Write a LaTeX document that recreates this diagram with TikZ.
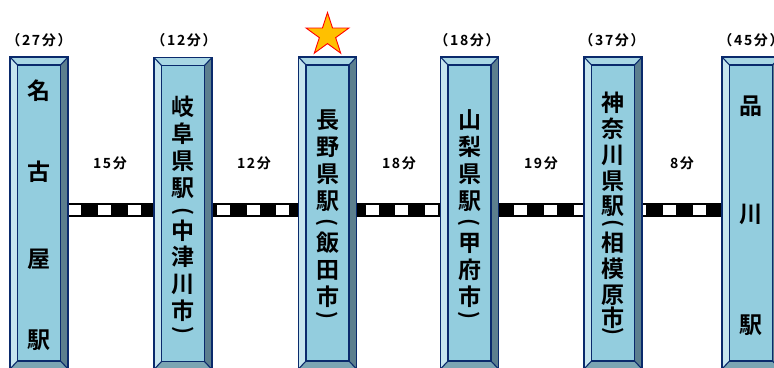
\documentclass[tikz,border=0pt]{standalone}
\usepackage{fontspec}
\setmainfont{Noto Sans CJK JP}[BoldFont={Noto Sans CJK JP Bold}]
\newfontfamily\lblfont{Noto Sans CJK JP Bold}[LetterSpace=12]
\usetikzlibrary{shapes.geometric,calc}
\definecolor{navy}{HTML}{0A2A6C}
\definecolor{face}{HTML}{93CDDE}
\definecolor{bvL}{HTML}{C6E5EE}
\definecolor{bvT}{HTML}{A9D7E4}
\definecolor{bvR}{HTML}{5C7F8E}
\definecolor{bvB}{HTML}{7BA5B3}
\definecolor{starfill}{HTML}{FFC000}
\newcommand\drawpillar[1]{%
  \path (#1.north west) coordinate (oA) (#1.north east) coordinate (oB)
        (#1.south east) coordinate (oC) (#1.south west) coordinate (oD)
        ([shift={(7.5pt,-8pt)}]#1.north west) coordinate (iA)
        ([shift={(-7.5pt,-8pt)}]#1.north east) coordinate (iB)
        ([shift={(-7.5pt,8pt)}]#1.south east) coordinate (iC)
        ([shift={(7.5pt,8pt)}]#1.south west) coordinate (iD);
  \fill[bvL] (oA)--(iA)--(iD)--(oD)--cycle;
  \fill[bvT] (oA)--(oB)--(iB)--(iA)--cycle;
  \fill[bvR] (oB)--(oC)--(iC)--(iB)--cycle;
  \fill[bvB] (oD)--(iD)--(iC)--(oC)--cycle;
  \fill[face] (iA)--(iB)--(iC)--(iD)--cycle;
  \draw[navy,line width=1.1pt] (oA)--(iA) (oB)--(iB) (oC)--(iC) (oD)--(iD);
  \draw[navy,line width=1.3pt] (iA)--(iB)--(iC)--(iD)--cycle;
  \draw[navy,line width=1.6pt] (oA)--(oB)--(oC)--(oD)--cycle;
}
\begin{document}
\begin{tikzpicture}[x=1pt,y=-1pt,
  lbl/.style={font=\lblfont\fontsize{14}{14}\selectfont,inner sep=0},
  kanji/.style={font=\bfseries\fontsize{23}{23}\selectfont,inner sep=0},
  paren/.style={font=\bfseries\fontsize{21}{21}\selectfont,inner sep=0,rotate=-90},
  pillarbox/.style={rectangle,inner sep=0,outer sep=0,minimum width=58pt,minimum height=312pt},
  trackbase/.style={line width=14.5pt,black},
  trackdash/.style={line width=10.5pt,white,dash pattern=on 13pt off 16.76pt},
]
\useasboundingbox (0,0) rectangle (774,367);
\clip (0,0) rectangle (774,367);
% pillar nodes
\node[pillarbox] (p1) at (39,213) {};
\node[pillarbox] (p2) at (183,213.5) {};
\node[pillarbox] (p3) at (327.5,213) {};
\node[pillarbox] (p4) at (469.5,213) {};
\node[pillarbox] (p5) at (613,213) {};
\node[pillarbox] (p6) at (751,213) {};
% track
\coordinate (trk) at (0,209.75);
\draw[trackbase] (p1.east|-trk) -- (p6.west|-trk);
\draw[trackdash] (p1.east|-trk) -- (p6.west|-trk);
% pillars
\drawpillar{p1}\drawpillar{p2}\drawpillar{p3}\drawpillar{p4}\drawpillar{p5}\drawpillar{p6}
% star
\node[star,star points=5,star point ratio=2.618,minimum size=45pt,inner sep=0,
      fill=starfill,draw=red,line width=0.9pt] (star) at (327.5,35) {};
% top labels
\node[lbl] (t1) at (39,40) {（27分）};
\node[lbl] (t2) at (184,40) {（12分）};
\node[lbl] (t4) at (467,40) {（18分）};
\node[lbl] (t5) at (612,40) {（37分）};
\node[lbl] (t6) at (751,40) {（45分）};
% gap labels
\node[lbl] (g1) at (110,163) {15分};
\node[lbl] (g2) at (254,163) {12分};
\node[lbl] (g3) at (399,163) {18分};
\node[lbl] (g4) at (541,163) {19分};
\node[lbl] (g5) at (682,163) {8分};
% pillar texts
\foreach \c/\y [count=\i] in {名/91,古/172,屋/259,駅/340}
  \node[kanji] (p1c\i) at (39,\y) {\c};
\foreach \c/\y [count=\i] in {岐/107,阜/134,県/161,駅/188,中/231,津/257,川/284,市/311}
  \node[kanji] (p2c\i) at (183,\y) {\c};
\node[paren] (p2o) at (183,211) {(};
\node[paren] (p2e) at (183,330) {)};
\foreach \c/\y [count=\i] in {長/120,野/147,県/174,駅/201,飯/243,田/270,市/297}
  \node[kanji] (p3c\i) at (327.5,\y) {\c};
\node[paren] (p3o) at (327.5,222) {(};
\node[paren] (p3e) at (327.5,315) {)};
\foreach \c/\y [count=\i] in {山/120,梨/147,県/174,駅/201,甲/243,府/270,市/297}
  \node[kanji] (p4c\i) at (469.5,\y) {\c};
\node[paren] (p4o) at (469.5,222) {(};
\node[paren] (p4e) at (469.5,315) {)};
\foreach \c/\y [count=\i] in {神/103,奈/129,川/155,県/181,駅/206,相/243,模/269,原/295,市/318}
  \node[kanji] (p5c\i) at (613,\y) {\c};
\node[paren] (p5o) at (613,223) {(};
\node[paren] (p5e) at (613,331) {)};
\foreach \c/\y [count=\i] in {品/106,川/214,駅/325}
  \node[kanji] (p6c\i) at (751,\y) {\c};
\end{tikzpicture}
\end{document}
